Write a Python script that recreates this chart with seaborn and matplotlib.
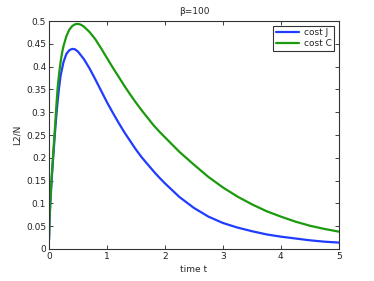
import numpy as np
import pandas as pd
import matplotlib
matplotlib.use("Agg")
import matplotlib.pyplot as plt
import seaborn as sns

# time points and values
t_J = [0, 0.01, 0.025, 0.05, 0.075, 0.1, 0.125, 0.15, 0.175, 0.2, 0.25, 0.3, 0.35,
       0.4, 0.45, 0.5, 0.6, 0.7, 0.8, 0.9, 1.0, 1.1, 1.2, 1.3, 1.4, 1.5, 1.6, 1.7,
       1.8, 1.9, 2.0, 2.25, 2.5, 2.75, 3.0, 3.25, 3.5, 3.75, 4.0, 4.25, 4.5, 4.75, 5.0]
cost_J = [0.02, 0.065, 0.105, 0.16, 0.205, 0.25, 0.29, 0.325, 0.355, 0.38, 0.41,
          0.428, 0.436, 0.439, 0.438, 0.433, 0.417, 0.396, 0.372, 0.347, 0.322,
          0.299, 0.277, 0.256, 0.237, 0.218, 0.201, 0.186, 0.171, 0.157, 0.144,
          0.114, 0.090, 0.071, 0.057, 0.047, 0.039, 0.032, 0.027, 0.023, 0.019,
          0.016, 0.014]

t_C = [0, 0.01, 0.025, 0.05, 0.075, 0.1, 0.125, 0.15, 0.175, 0.2, 0.225, 0.25, 0.3,
       0.35, 0.4, 0.45, 0.5, 0.55, 0.6, 0.7, 0.8, 0.9, 1.0, 1.1, 1.2, 1.3, 1.4, 1.5,
       1.6, 1.7, 1.8, 1.9, 2.0, 2.25, 2.5, 2.75, 3.0, 3.25, 3.5, 3.75, 4.0, 4.25,
       4.5, 4.75, 5.0]
cost_C = [0.02, 0.07, 0.11, 0.165, 0.215, 0.26, 0.31, 0.355, 0.385, 0.41, 0.43,
          0.445, 0.467, 0.481, 0.489, 0.493, 0.494, 0.492, 0.488, 0.476, 0.46,
          0.44, 0.419, 0.398, 0.378, 0.358, 0.339, 0.321, 0.304, 0.288, 0.272,
          0.258, 0.245, 0.213, 0.185, 0.158, 0.135, 0.115, 0.098, 0.083, 0.071,
          0.06, 0.051, 0.044, 0.038]

labels = ["cost J", "cost C"]
df = pd.concat([
    pd.DataFrame({"t": t_J, "v": cost_J, "series": labels[0]}),
    pd.DataFrame({"t": t_C, "v": cost_C, "series": labels[1]}),
])

sns.set_style("ticks")
plt.rcParams["font.family"] = ["DejaVu Sans"]

fig = plt.figure(figsize=(3.74, 2.81), dpi=100)
ax = fig.add_axes([0.131, 0.114, 0.775, 0.811])
sns.lineplot(data=df, x="t", y="v", hue="series", sort=False, estimator=None,
             palette={"cost J": "#1f3cff", "cost C": "#1b9a0e"}, linewidth=1.6, ax=ax)

ax.set_xlim(0, 5)
ax.set_ylim(0, 0.5)
ax.set_xticks([0, 1, 2, 3, 4, 5])
yt = [0, 0.05, 0.1, 0.15, 0.2, 0.25, 0.3, 0.35, 0.4, 0.45, 0.5]
ax.set_yticks(yt)
ax.set_yticklabels(["0", "0.05", "0.1", "0.15", "0.2", "0.25", "0.3", "0.35", "0.4", "0.45", "0.5"])
ax.tick_params(direction="in", length=3, width=0.6, labelsize=6.5, colors="#222222",
               top=True, right=True, pad=2)
for s in ax.spines.values():
    s.set_visible(True)
    s.set_linewidth(0.8)
    s.set_color("#333333")
ax.set_xlabel("time t", fontsize=6.5, labelpad=3)
ax.set_ylabel("L2/N", fontsize=6.5, labelpad=3)
ax.set_title("β=100", fontsize=6.5, pad=5)

leg = ax.legend(loc="upper right", fontsize=6.5, frameon=True, fancybox=False,
                handlelength=2.6, borderpad=0.3, labelspacing=0.2, handletextpad=0.5,
                borderaxespad=0.5)
leg.get_frame().set_edgecolor("black")
leg.get_frame().set_linewidth(0.8)

fig.savefig("out.png", dpi=100)
